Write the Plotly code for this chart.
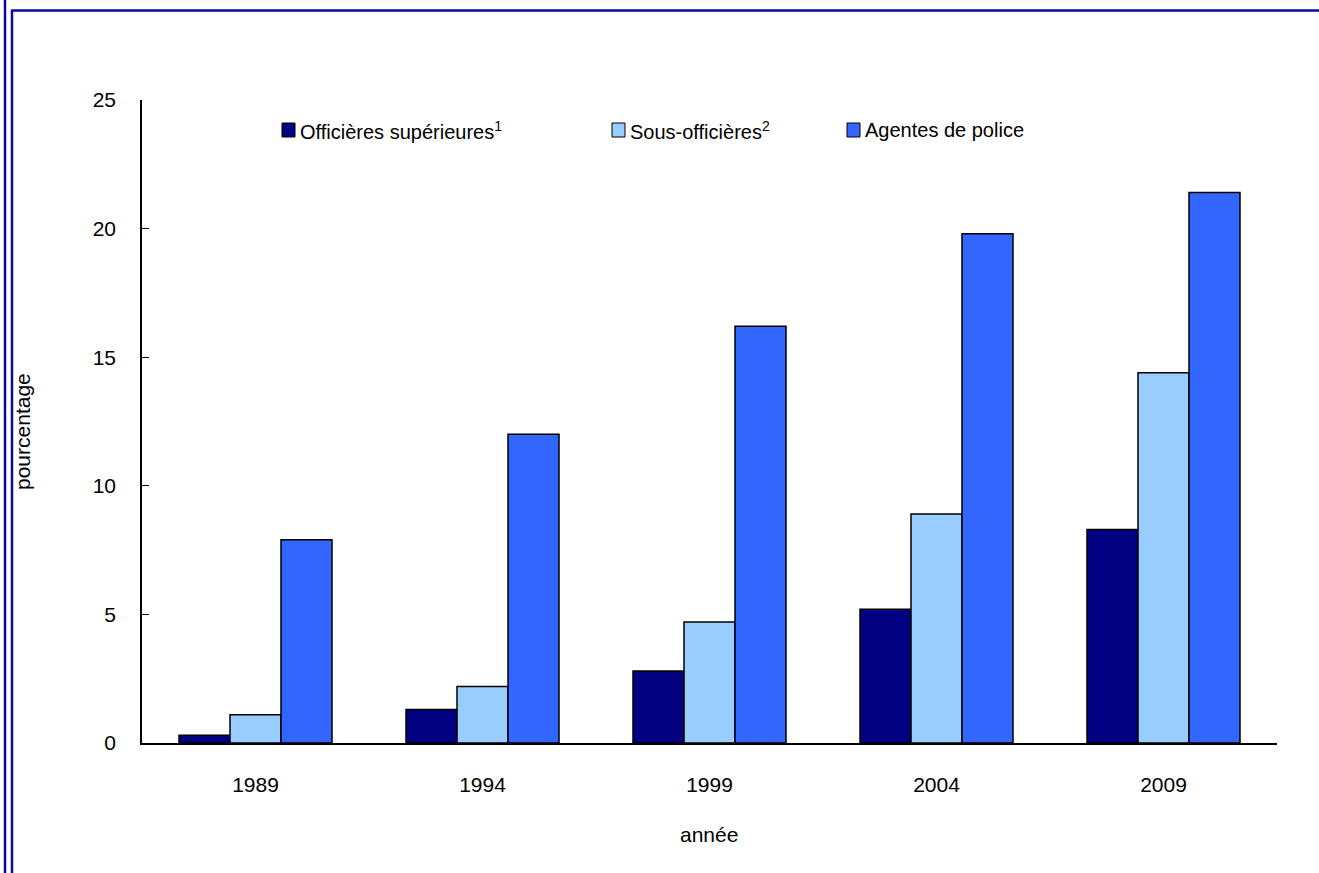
import plotly.graph_objects as go

# Data: share of women in police ranks (%)
years = ["1989", "1994", "1999", "2004", "2009"]
series_names = ["Officières supérieures<sup>1</sup>", "Sous-officières<sup>2</sup>", "Agentes de police"]
officieres_superieures = [0.3, 1.3, 2.8, 5.2, 8.3]
sous_officieres = [1.1, 2.2, 4.7, 8.9, 14.4]
agentes_police = [7.9, 12.0, 16.2, 19.8, 21.4]
series_values = [officieres_superieures, sous_officieres, agentes_police]
colors = ["#000080", "#99CCFF", "#3366FF"]
y_ticks = [0, 5, 10, 15, 20, 25]

W, H = 1319, 873
L, R, T, B = 142, 42, 100, 130
PW, PH = W - L - R, H - T - B
FONT = "Liberation Sans, Arial, sans-serif"
TICK_SIZE = 21
TITLE_SIZE = 21
LEGEND_SIZE = 20


def px_x(px):
    return (px - L) / PW


def px_y(py):
    return (H - B - py) / PH


fig = go.Figure()
for name, vals, col in zip(series_names, series_values, colors):
    fig.add_trace(go.Bar(
        x=years, y=vals, name=name,
        marker=dict(color=col, line=dict(color="#000000", width=1.5)),
        showlegend=False,
    ))

# Legend built from squares and labels
legend_sq_x = [288.5, 618.5, 853.5]
legend_y = 130
shapes = []
annotations = []
for name, col, cx in zip(series_names, colors, legend_sq_x):
    shapes.append(dict(
        type="rect", xref="paper", yref="paper",
        x0=px_x(cx - 6.5), x1=px_x(cx + 6.5),
        y0=px_y(legend_y + 7), y1=px_y(legend_y - 7),
        fillcolor=col, line=dict(color="#000000", width=1),
    ))
    annotations.append(dict(
        text=name, xref="paper", yref="paper",
        x=px_x(cx + 9), y=px_y(legend_y), xanchor="left", yanchor="middle",
        showarrow=False, font=dict(family=FONT, size=LEGEND_SIZE, color="#000000"),
    ))

# Axis titles
annotations.append(dict(
    text="pourcentage", xref="paper", yref="paper",
    x=px_x(22), y=px_y(432), textangle=-90, xanchor="center", yanchor="middle",
    showarrow=False, font=dict(family=FONT, size=TITLE_SIZE, color="#000000"),
))
annotations.append(dict(
    text="année", xref="paper", yref="paper",
    x=px_x(709), y=px_y(834), xanchor="center", yanchor="middle",
    showarrow=False, font=dict(family=FONT, size=TITLE_SIZE, color="#000000"),
))

# Page frame lines
frame_col = "#0A0A9A"
shapes += [
    dict(type="line", xref="paper", yref="paper",
         x0=px_x(5), x1=px_x(5), y0=px_y(0), y1=px_y(H),
         line=dict(color=frame_col, width=2.5)),
    dict(type="line", xref="paper", yref="paper",
         x0=px_x(12), x1=px_x(12), y0=px_y(10), y1=px_y(H),
         line=dict(color=frame_col, width=2.5)),
    dict(type="line", xref="paper", yref="paper",
         x0=px_x(11), x1=px_x(W), y0=px_y(10.5), y1=px_y(10.5),
         line=dict(color=frame_col, width=2.5)),
]

fig.update_layout(
    width=W, height=H,
    margin=dict(l=L, r=R, t=T, b=B, pad=0),
    paper_bgcolor="#FFFFFF", plot_bgcolor="#FFFFFF",
    barmode="group", bargap=0.326, bargroupgap=0,
    font=dict(family=FONT, size=TICK_SIZE, color="#000000"),
    shapes=shapes, annotations=annotations,
    xaxis=dict(
        type="category", showline=True, linecolor="#000000", linewidth=1.5,
        ticks="", showgrid=False, zeroline=False,
        tickfont=dict(family=FONT, size=TICK_SIZE, color="#000000"),
        ticklabelstandoff=22,
    ),
    yaxis=dict(
        range=[0, 25], tickvals=y_ticks, showline=True, linecolor="#000000",
        linewidth=1.5, ticks="inside", ticklen=7, tickcolor="#000000",
        showgrid=False, zeroline=False,
        tickfont=dict(family=FONT, size=TICK_SIZE, color="#000000"),
        ticklabelstandoff=20,
    ),
)

fig.write_html("out.html")
